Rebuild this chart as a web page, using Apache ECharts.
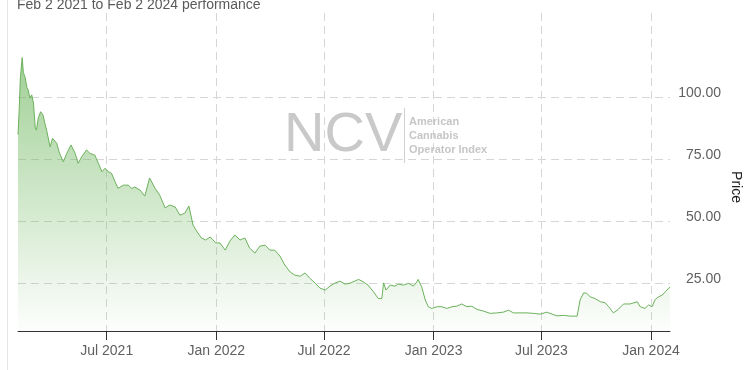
<!DOCTYPE html>
<html>
<head>
<meta charset="utf-8">
<script src="https://cdn.jsdelivr.net/npm/echarts@6/dist/echarts.min.js"></script>
<style>
html,body{margin:0;padding:0;background:#fff;}
#chart{width:749px;height:370px;}
</style>
</head>
<body>
<div id="chart"></div>
<script>
var titleText = 'Feb 2 2021 to Feb 2 2024 performance';
var axisName = 'Price';
var xStart = '2021-02-02';
var xEnd = '2024-02-02';
var xTicks = ['2021-07-01', '2022-01-01', '2022-07-01', '2023-01-01', '2023-07-01', '2024-01-01'];
var yTicks = [25, 50, 75, 100];
var monthNames = ['Jan','Feb','Mar','Apr','May','Jun','Jul','Aug','Sep','Oct','Nov','Dec'];

var dates = [
'2021-02-02','2021-02-04','2021-02-06','2021-02-09','2021-02-11','2021-02-14','2021-02-17','2021-02-19','2021-02-22','2021-02-25',
'2021-02-28','2021-03-03','2021-03-05','2021-03-08','2021-03-12','2021-03-16','2021-03-19','2021-03-22','2021-03-28','2021-04-01',
'2021-04-04','2021-04-08','2021-04-12','2021-04-19','2021-04-25','2021-05-02','2021-05-09','2021-05-14','2021-05-20','2021-05-28',
'2021-06-03','2021-06-11','2021-06-17','2021-06-23','2021-06-28','2021-07-04','2021-07-09','2021-07-15','2021-07-20','2021-07-29',
'2021-08-06','2021-08-12','2021-08-17','2021-08-26','2021-09-03','2021-09-11','2021-09-20','2021-09-28','2021-10-07','2021-10-15',
'2021-10-24','2021-11-01','2021-11-09','2021-11-16','2021-11-23','2021-11-30','2021-12-07','2021-12-14','2021-12-22','2021-12-31',
'2022-01-07','2022-01-16','2022-01-24','2022-02-01','2022-02-10','2022-02-18','2022-02-26','2022-03-07','2022-03-15','2022-03-24',
'2022-04-01','2022-04-09','2022-04-18','2022-04-26','2022-05-05','2022-05-13','2022-05-22','2022-05-30','2022-06-07','2022-06-16',
'2022-06-24','2022-07-03','2022-07-11','2022-07-19','2022-07-28','2022-08-05','2022-08-14','2022-08-28','2022-09-05','2022-09-13',
'2022-09-22','2022-09-30','2022-10-06','2022-10-09','2022-10-13','2022-10-20','2022-10-28','2022-11-03','2022-11-11','2022-11-20',
'2022-11-28','2022-12-04','2022-12-06','2022-12-12','2022-12-18','2022-12-23','2022-12-29','2023-01-07','2023-01-15','2023-01-23',
'2023-02-01','2023-02-09','2023-02-17','2023-02-26','2023-03-06','2023-03-15','2023-03-26','2023-04-06','2023-04-17','2023-04-28',
'2023-05-07','2023-05-15','2023-05-26','2023-06-07','2023-06-18','2023-06-29','2023-07-10','2023-07-19','2023-07-27','2023-08-07',
'2023-08-18','2023-08-30','2023-09-04','2023-09-10','2023-09-15','2023-09-21','2023-09-29','2023-10-08','2023-10-16','2023-10-22',
'2023-10-30','2023-11-07','2023-11-16','2023-11-27','2023-12-09','2023-12-11','2023-12-14','2023-12-22','2023-12-28','2024-01-03',
'2024-01-08','2024-01-14','2024-01-20','2024-01-25','2024-02-02'
];
var prices = [
85,95,108,116,110,108,104,103,99.7,101,
97.7,87.7,86.8,91.7,94.2,92.9,89.6,86.8,80,83.5,
83.9,81.5,78,74,77.4,80.8,77.4,73.4,76,78.8,
77.4,76.7,73.4,70,71.4,70,69.4,66,63.3,64.6,
64.6,63.3,63.8,62.6,60.2,67.5,63.4,60.6,55.4,56.6,
55.8,52.5,53.3,56.2,48.5,45.7,43.3,42.5,43.7,41.3,
41.3,38.4,42.1,44.5,42.5,43.3,39.2,37.2,40,40.4,
38.4,38.4,36,32.4,29.6,28.3,27.9,29.2,27.1,25.1,
23.1,22.3,23.9,25.1,25.9,24.7,25.1,26.6,25.6,24.3,
21.6,18.9,18.9,25.2,22.3,24.3,23.9,24.7,24.3,25,
23.9,25.6,26.6,23.6,18.3,15.6,14.9,15.6,15.6,14.9,
15.6,15.8,16.7,15.6,15.8,14.5,13.8,12.9,13.1,13.4,
14.2,13.1,13.1,13.1,12.9,12.6,13.4,12.6,11.9,12.1,
11.8,11.8,18.3,21.2,21,19.6,18.9,17.6,17.2,15.6,
13.1,14.5,16.7,16.7,17.6,18.3,15.6,14.9,16.3,15.6,
18.5,19.6,20.3,21.6,23.6
];

var seriesData = dates.map(function (d, i) { return [Date.parse(d), prices[i]]; });
var xTickValues = xTicks.map(function (d) { return Date.parse(d); });

var chart = echarts.init(document.getElementById('chart'), null, {renderer: 'canvas'});
var font = '"Liberation Sans", Arial, sans-serif';
var option = {
  animation: false,
  backgroundColor: '#ffffff',
  grid: {left: 18, right: 79, top: 13, bottom: 39, containLabel: false},
  xAxis: {
    type: 'value',
    min: Date.parse(xStart),
    max: Date.parse(xEnd),
    axisLine: {show: true, onZero: false, lineStyle: {color: '#333333', width: 1}},
    axisTick: {show: true, length: 9, lineStyle: {color: '#333333'}, customValues: xTickValues},
    axisLabel: {
      customValues: xTickValues,
      margin: 13,
      color: '#606060',
      fontSize: 14,
      fontFamily: font,
      formatter: function (v) {
        var d = new Date(v);
        return monthNames[d.getUTCMonth()] + ' ' + d.getUTCFullYear();
      }
    },
    splitLine: {show: true, lineStyle: {color: '#d6d6d6', type: [8, 5], width: 1}}
  },
  yAxis: {
    type: 'value',
    position: 'right',
    min: 5.8,
    max: 134,
    axisLine: {show: false},
    axisTick: {show: false, customValues: yTicks},
    axisLabel: {
      customValues: yTicks,
      align: 'right',
      verticalAlign: 'bottom',
      lineHeight: 9,
      margin: 51,
      color: '#606060',
      fontSize: 14,
      fontFamily: font,
      formatter: function (v) { return v.toFixed(2); }
    },
    splitLine: {show: true, lineStyle: {color: '#d6d6d6', type: [8, 5], width: 1}}
  },
  graphic: [
    {type: 'line', z: 0, shape: {x1: 7.5, y1: 0, x2: 7.5, y2: 370}, style: {stroke: '#e6e6e6', lineWidth: 1}},
    {type: 'text', z: 10, style: {x: 17, y: 5, text: titleText, font: '14px ' + font, fill: '#5a5a5a', textVerticalAlign: 'middle'}},
    {type: 'text', z: 10, x: 736, y: 187, rotation: -Math.PI / 2,
      style: {x: 0, y: 0, text: axisName, font: '14px ' + font, fill: '#222222', textAlign: 'center', textVerticalAlign: 'middle'}},
    {type: 'text', z: 1, style: {x: 284, y: 136, text: 'NCV', font: '56px ' + font, fill: '#c9c9c9', textVerticalAlign: 'middle'}},
    {type: 'line', z: 1, shape: {x1: 404.5, y1: 108, x2: 404.5, y2: 163}, style: {stroke: '#d0d0d0', lineWidth: 1}},
    {type: 'text', z: 1, style: {x: 409, y: 136, text: 'American\nCannabis\nOperator Index', font: 'bold 11px ' + font, lineHeight: 14, fill: '#c6c6c6', textVerticalAlign: 'middle'}}
  ],
  series: [{
    type: 'line',
    data: seriesData,
    showSymbol: false,
    symbol: 'none',
    lineStyle: {color: '#6cb25c', width: 1},
    areaStyle: {
      color: new echarts.graphic.LinearGradient(0, 0, 0, 1, [
        {offset: 0, color: 'rgba(108,182,92,0.92)'},
        {offset: 1, color: 'rgba(108,182,92,0.02)'}
      ])
    },
    z: 3
  }]
};
chart.setOption(option);
</script>
</body>
</html>
